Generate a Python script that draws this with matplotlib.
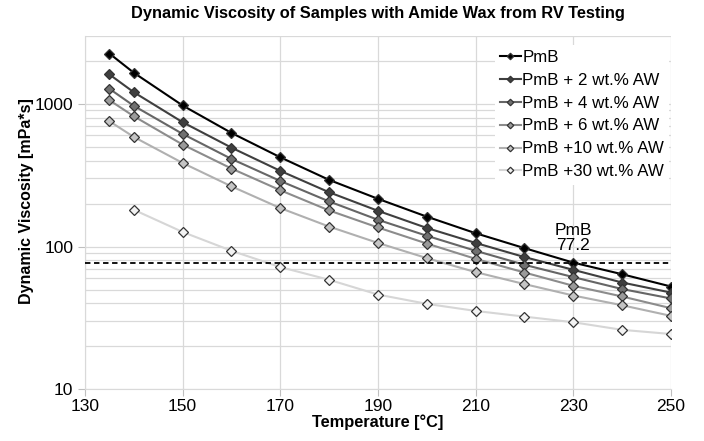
import numpy as np
import matplotlib
matplotlib.use("Agg")
from matplotlib import pyplot as plt
from matplotlib.ticker import FixedLocator, LogLocator, NullFormatter, FuncFormatter

plt.rcParams['font.family'] = ['Liberation Sans', 'DejaVu Sans']

# temperatures [°C]
temps = [135, 140, 150, 160, 170, 180, 190, 200, 210, 220, 230, 240, 250]
temps_30 = temps[1:]  # +30 wt.% AW starts at 140

# dynamic viscosity [mPa*s]
pmb = [2250, 1650, 973, 625, 422, 293, 216, 162, 124, 97.5, 77.2, 64, 52.5]
pmb_2 = [1606, 1205, 743, 493, 339, 240, 178, 135, 106, 84.4, 68.7, 56, 47.6]
pmb_4 = [1274, 968, 615, 411, 288, 207, 154, 119, 93.4, 74.5, 61.1, 50.4, 43.3]
pmb_6 = [1060, 818, 518, 352, 248, 179, 136, 105, 82, 65.8, 53.1, 44.7, 37]
pmb_10 = [755, 586, 385, 264, 186, 138, 106, 83, 66.2, 54.6, 45.4, 38.8, 32.7]
pmb_30 = [181, 126.5, 93.4, 71.8, 58.5, 46.1, 39.7, 35.4, 32.3, 29.5, 26.1, 24.4]

labels = ["PmB", "PmB + 2 wt.% AW", "PmB + 4 wt.% AW", "PmB + 6 wt.% AW",
          "PmB +10 wt.% AW", "PmB +30 wt.% AW"]
ref_value = 77.2  # PmB at 230 °C

x_ticks = [130, 150, 170, 190, 210, 230, 250]

# line colour, marker fill
styles = [("#000000", "#000000"),
          ("#3f3f3f", "#3f3f3f"),
          ("#666666", "#707070"),
          ("#8c8c8c", "#9a9a9a"),
          ("#b0b0b0", "#c4c4c4"),
          ("#d6d6d6", "#f2f2f2")]

fig = plt.figure(figsize=(7.04, 4.41), dpi=100)
ax = fig.add_axes([0.1207, 0.1172, 0.8323, 0.8019])

series = [(temps, pmb), (temps, pmb_2), (temps, pmb_4), (temps, pmb_6),
          (temps, pmb_10), (temps_30, pmb_30)]
for (t, v), lab, (lc, mc) in zip(series, labels, styles):
    ax.plot(t, v, '-', color=lc, lw=1.5, marker='D', ms=5.5,
            markerfacecolor=mc, markeredgecolor='#333333', markeredgewidth=0.9,
            label=lab, zorder=3)

ax.axhline(ref_value, color='black', ls=(0, (3, 2)), lw=1.3, zorder=4)
ax.text(230, ref_value * 1.16, "PmB\n" + f"{ref_value}", ha='center', va='bottom',
        fontsize=12.5, linespacing=1.05)

ax.set_yscale('log')
ax.set_xlim(130, 250)
ax.set_ylim(10, 3000)
ax.xaxis.set_major_locator(FixedLocator(x_ticks))
ax.yaxis.set_major_locator(LogLocator(base=10))
ax.yaxis.set_minor_locator(LogLocator(base=10, subs=np.arange(2, 10)))
ax.yaxis.set_major_formatter(FuncFormatter(lambda v, p: f"{v:g}"))
ax.yaxis.set_minor_formatter(NullFormatter())

ax.grid(True, which='both', axis='y', color='#d9d9d9', lw=0.9)
ax.grid(True, which='major', axis='x', color='#d9d9d9', lw=0.9)
ax.set_axisbelow(True)
for s in ['top', 'right']:
    ax.spines[s].set_visible(False)
for s in ['left', 'bottom']:
    ax.spines[s].set_color('#d9d9d9')
ax.tick_params(axis='both', which='major', length=5, color='#bfbfbf', labelsize=12.5)
ax.tick_params(axis='x', which='major', pad=2)
ax.tick_params(axis='y', which='minor', length=0)

ax.set_title("Dynamic Viscosity of Samples with Amide Wax from RV Testing",
             fontsize=11.8, fontweight='bold', pad=13)
ax.set_xlabel("Temperature [°C]", fontsize=11.8, fontweight='bold', labelpad=0)
ax.set_ylabel("Dynamic Viscosity [mPa*s]", fontsize=11.5, fontweight='bold')
ax.yaxis.set_label_coords(-0.087, 0.532)

leg = ax.legend(loc='upper left', bbox_to_anchor=(0.70, 0.975), fontsize=12.2,
                frameon=True, fancybox=False, edgecolor='none', framealpha=1,
                handlelength=1.2, handletextpad=0.1, labelspacing=0.47,
                borderaxespad=0, borderpad=0.3, markerscale=0.6)

fig.savefig("out.png", dpi=100)
